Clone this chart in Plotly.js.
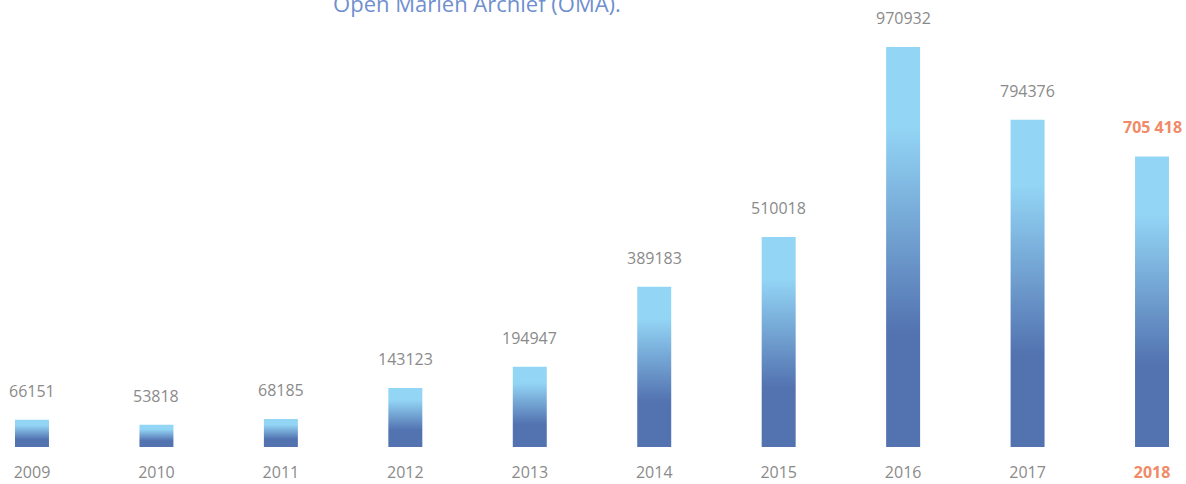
<!DOCTYPE html>
<html>
<head>
<meta charset="utf-8">
<script src="https://cdn.plot.ly/plotly-3.0.1.min.js"></script>
<style>
  body { margin: 0; background: #fff; }
  #chart { width: 1186px; height: 484px; }
</style>
</head>
<body>
<div id="chart"></div>
<script>
// data
var years = ['2009', '2010', '2011', '2012', '2013', '2014', '2015', '2016', '2017', '2018'];
var counts = [66151, 53818, 68185, 143123, 194947, 389183, 510018, 970932, 794376, 705418];
var labels = ['66151', '53818', '68185', '143123', '194947', '389183', '510018', '970932', '794376', '705 418'];

var grey = '#8a8a8a';
var orange = '#f08a68';
var last = years.length - 1;

var tickText = years.map(function (y, i) {
    return i === last ? '<b><span style="color:' + orange + '">' + y + '</span></b>' : y;
});

var notes = counts.map(function (v, i) {
    return {
        x: i, y: v, xref: 'x', yref: 'y',
        text: i === last ? '<b>' + labels[i] + '</b>' : labels[i],
        showarrow: false, yshift: 29,
        font: {family: 'Open Sans', size: 16, color: i === last ? orange : grey}
    };
});

var trace = {
    x: years.map(function (y, i) { return i; }),
    y: counts,
    type: 'bar',
    width: 0.273,
    marker: {color: '#5272b0'},
    hoverinfo: 'none'
};

var layout = {
    width: 1186, height: 484,
    margin: {l: 0, r: 0, t: 47, b: 37},
    paper_bgcolor: '#fff', plot_bgcolor: '#fff',
    showlegend: false,
    title: {
        text: 'Open Marien Archief (OMA).',
        font: {family: 'Open Sans', size: 22, color: '#6f8fcf'},
        x: 477 / 1186, xanchor: 'center',
        y: 0.992, yanchor: 'middle'
    },
    xaxis: {
        range: [-0.257, 9.273],
        tickvals: years.map(function (y, i) { return i; }),
        ticktext: tickText,
        showgrid: false, zeroline: false, showline: false, ticks: '',
        ticklabelstandoff: 14,
        tickfont: {family: 'Open Sans', size: 16, color: grey},
        fixedrange: true
    },
    yaxis: {
        range: [0, 970932],
        visible: false,
        fixedrange: true
    },
    annotations: notes
};

Plotly.newPlot('chart', [trace], layout, {displayModeBar: false, staticPlot: true}).then(function (gd) {
    // fade each bar from light blue at the top to the darker blue below
    var ns = 'http://www.w3.org/2000/svg';
    var defs = gd.querySelector('svg.main-svg defs');
    var grad = document.createElementNS(ns, 'linearGradient');
    grad.setAttribute('id', 'barFade');
    grad.setAttribute('x1', '0'); grad.setAttribute('y1', '0');
    grad.setAttribute('x2', '0'); grad.setAttribute('y2', '1');
    [[0, '#93d5f5'], [0.2, '#93d5f5'], [0.72, '#5272b0'], [1, '#5272b0']].forEach(function (s) {
        var stop = document.createElementNS(ns, 'stop');
        stop.setAttribute('offset', s[0]);
        stop.setAttribute('stop-color', s[1]);
        grad.appendChild(stop);
    });
    defs.appendChild(grad);
    gd.querySelectorAll('.bars .point path').forEach(function (p) {
        p.style.fill = 'url(#barFade)';
    });
});
</script>
</body>
</html>
